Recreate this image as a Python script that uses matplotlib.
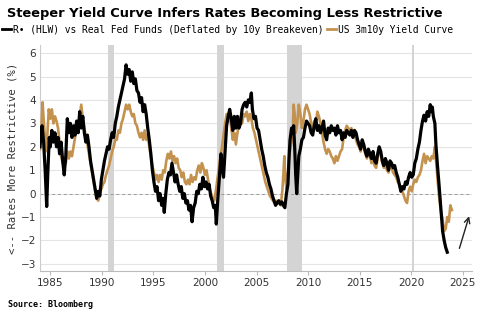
import matplotlib
matplotlib.use("Agg")
import matplotlib.pyplot as plt
from matplotlib.lines import Line2D

# R* (HLW) vs real fed funds -- (decimal year, value)
rstar_years = [
    1984.0, 1984.1, 1984.2, 1984.35, 1984.5, 1984.65, 1984.75, 1984.9, 1985.0, 1985.15,
    1985.3, 1985.45, 1985.6, 1985.75, 1985.9, 1986.05, 1986.2, 1986.35, 1986.5, 1986.65,
    1986.8, 1986.95, 1987.1, 1987.25, 1987.4, 1987.55, 1987.7, 1987.85, 1988.0, 1988.15,
    1988.3, 1988.45, 1988.6, 1988.75, 1988.9, 1989.05, 1989.2, 1989.35, 1989.5, 1989.65,
    1989.8, 1989.95, 1990.1, 1990.25, 1990.4, 1990.55, 1990.7, 1990.85, 1991.0, 1991.15,
    1991.3, 1991.45, 1991.6, 1991.75, 1991.9, 1992.05, 1992.2, 1992.35, 1992.5, 1992.65,
    1992.8, 1992.95, 1993.1, 1993.25, 1993.4, 1993.55, 1993.7, 1993.85, 1994.0, 1994.15,
    1994.3, 1994.45, 1994.6, 1994.75, 1994.9, 1995.05, 1995.2, 1995.35, 1995.5, 1995.65,
    1995.8, 1995.95, 1996.05, 1996.2, 1996.35, 1996.5, 1996.65, 1996.8, 1996.95, 1997.1,
    1997.25, 1997.4, 1997.55, 1997.7, 1997.85, 1998.0, 1998.15, 1998.3, 1998.45, 1998.6,
    1998.75, 1998.9, 1999.05, 1999.2, 1999.35, 1999.5, 1999.65, 1999.8, 1999.95, 2000.1,
    2000.25, 2000.4, 2000.55, 2000.7, 2000.85, 2001.0, 2001.1, 2001.25, 2001.4, 2001.55,
    2001.7, 2001.8, 2001.95, 2002.1, 2002.25, 2002.4, 2002.55, 2002.7, 2002.85, 2003.0,
    2003.15, 2003.3, 2003.45, 2003.6, 2003.75, 2003.9, 2004.05, 2004.2, 2004.35, 2004.5,
    2004.6, 2004.75, 2004.9, 2005.05, 2005.2, 2005.35, 2005.5, 2005.65, 2005.8, 2005.95,
    2006.1, 2006.25, 2006.4, 2006.55, 2006.7, 2006.85, 2007.0, 2007.15, 2007.3, 2007.45,
    2007.6, 2007.75, 2007.9, 2008.05, 2008.15, 2008.25, 2008.4, 2008.5, 2008.6, 2008.7,
    2008.8, 2008.9, 2009.0, 2009.1, 2009.25, 2009.4, 2009.55, 2009.7, 2009.85, 2010.0,
    2010.15, 2010.3, 2010.45, 2010.6, 2010.75, 2010.9, 2011.05, 2011.2, 2011.35, 2011.5,
    2011.65, 2011.8, 2011.95, 2012.1, 2012.25, 2012.4, 2012.55, 2012.7, 2012.85, 2013.0,
    2013.15, 2013.3, 2013.45, 2013.6, 2013.75, 2013.9, 2014.05, 2014.2, 2014.35, 2014.5,
    2014.65, 2014.8, 2014.95, 2015.1, 2015.25, 2015.4, 2015.55, 2015.7, 2015.85, 2016.0,
    2016.15, 2016.3, 2016.45, 2016.6, 2016.75, 2016.9, 2017.05, 2017.2, 2017.35, 2017.5,
    2017.65, 2017.8, 2017.95, 2018.1, 2018.25, 2018.4, 2018.55, 2018.7, 2018.85, 2019.0,
    2019.15, 2019.3, 2019.45, 2019.6, 2019.75, 2019.9, 2020.05, 2020.2, 2020.35, 2020.5,
    2020.65, 2020.8, 2020.95, 2021.1, 2021.25, 2021.4, 2021.55, 2021.7, 2021.85, 2021.95,
    2022.05, 2022.15, 2022.3, 2022.4, 2022.55, 2022.7, 2022.8, 2022.9, 2023.05, 2023.2,
    2023.35, 2023.5,
]
rstar_values = [
    2.0, 2.6, 2.9, 2.2, 1.0, -0.55, 0.8, 2.4, 2.0, 2.7,
    2.2, 2.6, 2.0, 2.4, 1.7, 2.2, 1.4, 0.8, 1.6, 3.2,
    2.6, 3.0, 2.4, 2.9, 2.5, 3.1, 2.6, 3.5, 2.8, 3.3,
    2.6, 2.2, 2.5, 2.0, 1.4, 1.0, 0.6, 0.2, -0.2, 0.1,
    -0.1, 0.6, 1.0, 1.4, 1.7, 2.0, 1.9, 2.3, 2.6, 2.4,
    3.0, 3.3, 3.7, 4.0, 4.3, 4.6, 4.9, 5.5, 5.1, 5.3,
    4.8, 5.2, 4.7, 4.9, 4.4, 4.3, 3.9, 4.1, 3.5, 3.8,
    3.4, 2.8, 2.3, 1.7, 1.0, 0.5, 0.1, 0.3, -0.3, 0.0,
    -0.5, -0.2, -0.8, 0.0, 0.6, 0.9, 0.8, 1.3, 0.9, 0.5,
    0.8, 0.4, 0.1, 0.3, -0.2, 0.0, -0.4, -0.3, -0.7, -0.5,
    -1.2, -0.6, -0.4, 0.1, 0.0, 0.4, 0.2, 0.7, 0.3, 0.5,
    0.2, 0.4, -0.1, -0.3, -0.6, -0.5, -1.3, -0.2, 0.7, 1.7,
    1.0, 0.7, 1.8, 2.9, 3.3, 3.6, 3.2, 2.7, 3.3, 2.8,
    3.3, 2.8, 3.0, 3.6, 3.8, 3.9, 3.7, 4.0, 3.9, 4.3,
    3.6, 3.2, 3.3, 2.8, 2.7, 2.3, 1.9, 1.6, 1.2, 0.9,
    0.7, 0.4, 0.2, -0.1, -0.3, -0.5, -0.4, -0.3, -0.45, -0.35,
    -0.5, -0.6, 0.0, 0.4, 1.5, 2.3, 2.8, 2.6, 2.9, 2.0,
    0.8, 0.0, 0.8, 1.6, 1.9, 2.3, 2.4, 2.8, 3.1, 3.0,
    2.9, 2.6, 2.5, 2.9, 3.2, 2.7, 2.9, 2.6, 2.8, 3.1,
    2.5, 2.3, 2.8, 2.6, 2.9, 2.7, 2.8, 2.5, 2.9, 2.6,
    2.7, 2.3, 2.6, 2.4, 2.7, 2.6, 2.5, 2.7, 2.4, 2.7,
    2.6, 2.3, 2.1, 1.9, 2.3, 2.1, 1.8, 1.6, 1.9, 1.7,
    1.5, 1.8, 1.4, 1.3, 1.7, 2.0, 1.8, 1.4, 1.2, 1.5,
    1.3, 1.0, 1.4, 1.3, 1.1, 1.2, 0.9, 0.7, 0.4, 0.1,
    0.3, 0.2, 0.5, 0.4, 0.7, 0.9, 0.7, 0.8, 1.3, 1.5,
    1.9, 2.2, 2.7, 3.1, 3.35, 3.1, 3.5, 3.3, 3.8, 3.5,
    3.7, 3.3, 3.0, 2.1, 1.2, 0.4, -0.2, -0.75, -1.6, -2.0,
    -2.3, -2.5,
]

# US 3m10y yield curve
curve_years = [
    1984.0, 1984.1, 1984.25, 1984.35, 1984.45, 1984.55, 1984.7, 1984.85, 1985.0, 1985.15,
    1985.3, 1985.45, 1985.6, 1985.75, 1985.9, 1986.05, 1986.2, 1986.35, 1986.5, 1986.65,
    1986.8, 1986.95, 1987.1, 1987.25, 1987.4, 1987.55, 1987.7, 1987.85, 1988.0, 1988.15,
    1988.3, 1988.45, 1988.6, 1988.75, 1988.9, 1989.05, 1989.2, 1989.35, 1989.5, 1989.65,
    1989.8, 1989.95, 1990.1, 1990.25, 1990.4, 1990.55, 1990.7, 1990.85, 1991.0, 1991.15,
    1991.3, 1991.45, 1991.6, 1991.75, 1991.9, 1992.05, 1992.2, 1992.35, 1992.5, 1992.65,
    1992.8, 1992.95, 1993.1, 1993.25, 1993.4, 1993.55, 1993.7, 1993.85, 1994.0, 1994.15,
    1994.3, 1994.45, 1994.6, 1994.75, 1994.9, 1995.05, 1995.2, 1995.35, 1995.5, 1995.65,
    1995.8, 1995.95, 1996.1, 1996.25, 1996.4, 1996.55, 1996.7, 1996.85, 1997.0, 1997.15,
    1997.3, 1997.45, 1997.6, 1997.75, 1997.9, 1998.05, 1998.2, 1998.35, 1998.5, 1998.65,
    1998.8, 1998.95, 1999.1, 1999.25, 1999.4, 1999.55, 1999.7, 1999.85, 2000.0, 2000.15,
    2000.3, 2000.45, 2000.6, 2000.75, 2000.9, 2001.05, 2001.2, 2001.35, 2001.5, 2001.65,
    2001.8, 2001.95, 2002.1, 2002.25, 2002.4, 2002.55, 2002.7, 2002.85, 2003.0, 2003.15,
    2003.3, 2003.45, 2003.6, 2003.75, 2003.9, 2004.05, 2004.2, 2004.35, 2004.5, 2004.65,
    2004.8, 2004.95, 2005.1, 2005.25, 2005.4, 2005.55, 2005.7, 2005.85, 2006.0, 2006.15,
    2006.3, 2006.45, 2006.6, 2006.75, 2006.9, 2007.05, 2007.2, 2007.35, 2007.5, 2007.6,
    2007.7, 2007.8, 2007.9, 2008.05, 2008.2, 2008.35, 2008.5, 2008.6, 2008.7, 2008.8,
    2008.95, 2009.1, 2009.25, 2009.4, 2009.55, 2009.7, 2009.85, 2010.0, 2010.15, 2010.3,
    2010.45, 2010.6, 2010.75, 2010.9, 2011.05, 2011.2, 2011.35, 2011.5, 2011.65, 2011.8,
    2011.95, 2012.1, 2012.25, 2012.4, 2012.55, 2012.7, 2012.85, 2013.0, 2013.15, 2013.3,
    2013.45, 2013.6, 2013.75, 2013.9, 2014.05, 2014.2, 2014.35, 2014.5, 2014.65, 2014.8,
    2014.95, 2015.1, 2015.25, 2015.4, 2015.55, 2015.7, 2015.85, 2016.0, 2016.15, 2016.3,
    2016.45, 2016.6, 2016.75, 2016.9, 2017.05, 2017.2, 2017.35, 2017.5, 2017.65, 2017.8,
    2017.95, 2018.1, 2018.25, 2018.4, 2018.55, 2018.7, 2018.85, 2019.0, 2019.15, 2019.3,
    2019.45, 2019.6, 2019.75, 2019.9, 2020.05, 2020.2, 2020.35, 2020.5, 2020.65, 2020.8,
    2020.95, 2021.1, 2021.25, 2021.4, 2021.55, 2021.7, 2021.85, 2022.0, 2022.15, 2022.3,
    2022.45, 2022.6, 2022.75, 2022.9, 2023.05, 2023.2, 2023.35, 2023.5, 2023.65, 2023.8,
    2023.95,
]
curve_values = [
    1.9, 2.4, 3.9, 3.2, 2.6, 1.8, 2.4, 3.6, 3.2, 3.6,
    3.0, 3.3, 3.1, 2.8, 2.2, 1.6, 1.3, 1.5, 1.3, 1.8,
    1.5, 1.8, 1.6, 2.0, 2.4, 2.8, 2.6, 3.3, 3.8, 3.2,
    2.8, 2.4, 2.1, 1.7, 1.3, 0.9, 0.5, 0.1, -0.2, -0.3,
    0.0, 0.2, 0.4, 0.5, 0.8, 1.0, 1.2, 1.5, 1.8, 2.0,
    2.3, 2.3, 2.7, 2.6, 3.0, 3.2, 3.5, 3.8, 3.6, 3.8,
    3.5, 3.3, 3.4, 3.0, 2.9, 2.6, 2.4, 2.6, 2.3, 2.7,
    2.3, 2.5, 2.0, 1.6, 1.2, 0.9, 0.6, 0.8, 0.5, 0.8,
    0.6, 1.0, 0.9, 1.4, 1.7, 1.5, 1.8, 1.4, 1.6, 1.3,
    1.5, 1.1, 1.0, 0.7, 0.9, 0.5, 0.4, 0.6, 0.4, 0.8,
    0.5, 0.7, 0.6, 1.0, 1.2, 0.9, 1.3, 1.1, 0.8, 1.0,
    0.6, 0.2, 0.0, -0.2, -0.3, 0.1, 0.6, 1.1, 1.6, 2.0,
    2.5, 3.0, 3.4, 3.1, 3.3, 2.8, 2.3, 2.6, 2.1, 2.6,
    3.0, 3.3, 3.0, 3.4, 3.3, 3.5, 3.1, 3.4, 3.2, 2.8,
    2.6, 2.3, 2.0, 1.7, 1.4, 1.1, 0.8, 0.5, 0.3, 0.1,
    -0.1, -0.2, -0.3, -0.4, -0.3, -0.4, -0.3, -0.5, 0.1, 0.8,
    1.6, 0.6, 0.2, 0.9, 1.7, 2.1, 2.4, 3.8, 3.4, 2.6,
    3.0, 3.8, 3.4, 2.8, 3.1, 3.6, 3.8, 3.6, 3.4, 3.0,
    2.8, 3.1, 3.0, 3.5, 3.3, 3.0, 2.6, 2.2, 1.9, 1.7,
    1.9, 1.8, 1.6, 1.5, 1.3, 1.6, 1.4, 1.6, 1.8, 1.9,
    2.4, 2.7, 2.9, 2.8, 2.7, 2.8, 2.5, 2.6, 2.3, 2.1,
    2.0, 1.8, 2.2, 2.0, 1.7, 1.5, 1.7, 1.6, 1.3, 1.5,
    1.2, 1.1, 1.5, 1.9, 1.7, 1.3, 1.1, 1.2, 1.0, 0.9,
    1.2, 1.1, 0.9, 0.8, 0.7, 0.5, 0.4, 0.2, 0.1, -0.1,
    -0.3, -0.4, 0.1, 0.3, 0.1, 0.4, 0.6, 0.5, 0.7, 0.8,
    1.0, 1.4, 1.7, 1.3, 1.6, 1.5, 1.4, 1.6, 1.5, 2.0,
    1.2, 0.4, -0.3, -0.8, -1.1, -1.6, -1.5, -1.0, -1.2, -0.5,
    -0.7,
]

# recession bands (start, end)
recessions = [(1990.58, 1991.17), (2001.2, 2001.85), (2007.95, 2009.45), (2020.1, 2020.25)]

year_ticks = [1985, 1990, 1995, 2000, 2005, 2010, 2015, 2020, 2025]
value_ticks = [-3, -2, -1, 0, 1, 2, 3, 4, 5, 6]

black = "#000000"
tan = "#C4924F"
mono = "DejaVu Sans Mono"

fig = plt.figure(figsize=(5.0, 3.21), dpi=100)
ax = fig.add_axes([0.08, 0.156, 0.864, 0.704])

for start, end in recessions:
    ax.axvspan(start, end, color="#d4d4d4", lw=0, zorder=1)

ax.axhline(0, color="#999999", lw=0.7, ls=(0, (3, 3)), zorder=2)

ax.plot(curve_years, curve_values, color=tan, lw=1.9, zorder=3)
ax.plot(rstar_years, rstar_values, color=black, lw=2.3, zorder=4)

ax.annotate("", xy=(2025.7, -0.85), xytext=(2024.6, -2.45),
            arrowprops=dict(arrowstyle="->", color="#222222", lw=1.0))

ax.set_xlim(1984.0, 2025.9)
ax.set_ylim(-3.3, 6.35)
ax.set_xticks(year_ticks)
ax.set_yticks(value_ticks)
ax.grid(axis="y", color="#e4e4e4", lw=0.8, zorder=0)
ax.set_axisbelow(True)

for side in ["top", "right"]:
    ax.spines[side].set_visible(False)
ax.spines["left"].set_color("#cccccc")
ax.spines["bottom"].set_color("#bbbbbb")
ax.tick_params(axis="y", length=0, labelsize=7.5, labelcolor="#333333", pad=3)
ax.tick_params(axis="x", length=3, color="#bbbbbb", labelsize=7.5, labelcolor="#333333", pad=2)

ax.set_ylabel("<-- Rates More Restrictive (%)", family=mono, fontsize=7.6,
              color="#333333", labelpad=2)

fig.text(0.014, 0.958, "Steeper Yield Curve Infers Rates Becoming Less Restrictive",
         fontsize=9.4, fontweight="bold", va="center", ha="left")

handles = [Line2D([], [], color=black, lw=2.0), Line2D([], [], color=tan, lw=2.0)]
labels = ["R\u2022 (HLW) vs Real Fed Funds (Deflated by 10y Breakeven)",
          "US 3m10y Yield Curve"]
fig.legend(handles, labels, loc="center left", bbox_to_anchor=(0.0, 0.907), ncol=2,
           frameon=False, handlelength=0.9, handletextpad=0.25, columnspacing=0.4,
           borderaxespad=0, borderpad=0.2, prop={"family": mono, "size": 6.95})

fig.text(0.016, 0.05, "Source: Bloomberg", family=mono, fontsize=6.0,
         fontweight="bold", va="center", ha="left")

fig.savefig("out.png", dpi=100)
